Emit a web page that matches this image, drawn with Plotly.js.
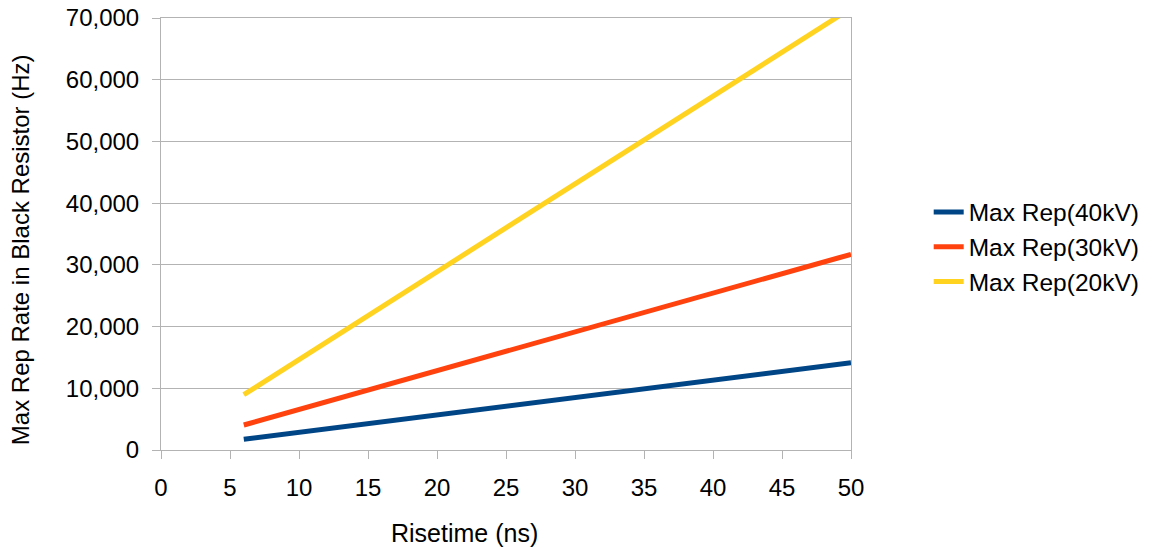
<!DOCTYPE html>
<html>
<head>
<meta charset="utf-8">
<script src="https://cdn.plot.ly/plotly-3.0.1.min.js"></script>
<style>html,body{margin:0;padding:0;background:#fff;}#chart{width:1156px;height:550px;}</style>
</head>
<body>
<div id="chart"></div>
<script>
const risetime = [6, 10, 15, 20, 25, 30, 35, 40, 45, 50];
const rep40kV = [1730, 2860, 4270, 5680, 7090, 8500, 9910, 11320, 12730, 14140];
const rep30kV = [4050, 6560, 9710, 12850, 15990, 19140, 22280, 25430, 28570, 31710];
const rep20kV = [8960, 14650, 21770, 28880, 35990, 43110, 50220, 57340, 64450, 71570];
const seriesNames = ["Max Rep(40kV)", "Max Rep(30kV)", "Max Rep(20kV)"];
const xTicks = [0, 5, 10, 15, 20, 25, 30, 35, 40, 45, 50];
const yTicks = [0, 10000, 20000, 30000, 40000, 50000, 60000, 70000];
const xTitle = "Risetime (ns)";
const yTitle = "Max Rep Rate in Black Resistor (Hz)";

const FONT = "Liberation Sans, Arial, sans-serif";
const traces = [
  {x: risetime, y: rep40kV, name: seriesNames[0], mode: "lines", line: {color: "#004586", width: 5}},
  {x: risetime, y: rep30kV, name: seriesNames[1], mode: "lines", line: {color: "#ff420e", width: 5}},
  {x: risetime, y: rep20kV, name: seriesNames[2], mode: "lines", line: {color: "#ffd320", width: 5}}
];
const layout = {
  width: 1156, height: 550,
  margin: {l: 161, r: 304, t: 18, b: 100},
  paper_bgcolor: "#ffffff", plot_bgcolor: "#ffffff",
  font: {family: FONT, size: 24, color: "#000000"},
  showlegend: true,
  hovermode: false,
  legend: {x: 1.111, xanchor: "left", y: 0.47, yanchor: "middle", borderwidth: 0,
           font: {size: 24.5, family: FONT}, bgcolor: "rgba(0,0,0,0)"},
  xaxis: {
    range: [0, 50], tickvals: xTicks, ticktext: xTicks.map(String),
    showgrid: false, zeroline: false,
    showline: true, linecolor: "#b3b3b3", linewidth: 1, mirror: true,
    ticks: "outside", ticklen: 8, tickcolor: "#b3b3b3", ticklabelstandoff: 8,
    tickfont: {size: 24, family: FONT}
  },
  yaxis: {
    range: [0, 70000], tickvals: yTicks, tickformat: ",",
    showgrid: true, gridcolor: "#b3b3b3", gridwidth: 1, zeroline: false,
    showline: true, linecolor: "#b3b3b3", linewidth: 1, mirror: true,
    ticks: "outside", ticklen: 8, tickcolor: "#b3b3b3", ticklabelstandoff: 8,
    tickfont: {size: 24, family: FONT}
  },
  annotations: [
    {text: xTitle, xref: "paper", yref: "paper", x: (465 - 161) / 691, y: (450 - 533) / 432,
     xanchor: "center", yanchor: "middle", showarrow: false, font: {size: 25, family: FONT}},
    {text: yTitle, xref: "paper", yref: "paper", x: (21 - 161) / 691, y: (450 - 250) / 432,
     xanchor: "center", yanchor: "middle", textangle: -90, showarrow: false, font: {size: 24, family: FONT}}
  ]
};
Plotly.newPlot("chart", traces, layout, {staticPlot: true, displayModeBar: false});
</script>
</body>
</html>
